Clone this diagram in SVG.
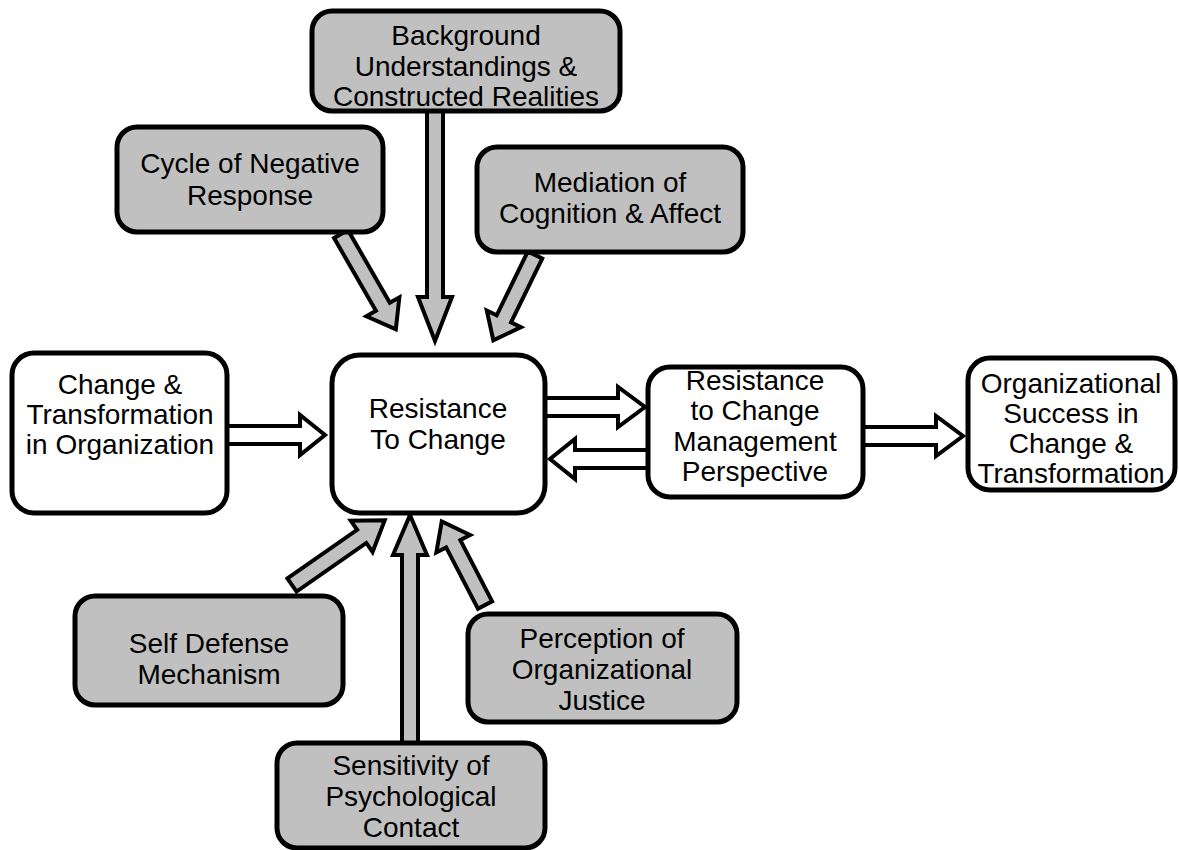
<svg xmlns="http://www.w3.org/2000/svg" width="1179" height="850" viewBox="0 0 1179 850">
<style>
.box{stroke:#000;stroke-width:5;}
.g{fill:#c0c0c0;}
.w{fill:#fff;}
.arr{stroke:#000;stroke-width:4;stroke-linejoin:miter;stroke-miterlimit:10;}
text{font-family:"Liberation Sans",Arial,sans-serif;font-size:28px;fill:#000;text-anchor:middle;}
</style>
<rect width="1179" height="850" fill="#fff"/>
<g id="connectors">
<path class="arr g" transform="translate(435,108) rotate(90)" d="M0,-8 H189 V-17 L233,0 L189,17 V8 H0 Z"/>
<path class="arr g" transform="translate(341,234) rotate(60.1)" d="M0,-8 H84 V-19 L110,0 L84,19 V8 H0 Z"/>
<path class="arr g" transform="translate(535,255) rotate(116)" d="M0,-8 H71 V-19 L95,0 L71,19 V8 H0 Z"/>
<path class="arr w" transform="translate(225,435)" d="M0,-9 H75 V-20 L100,0 L75,20 V9 H0 Z"/>
<path class="arr w" transform="translate(543,407)" d="M0,-9 H75 V-20 L102,0 L75,20 V9 H0 Z"/>
<path class="arr w" transform="translate(650,459) rotate(180)" d="M0,-9 H75 V-20 L100,0 L75,20 V9 H0 Z"/>
<path class="arr w" transform="translate(861,436)" d="M0,-9 H75 V-20 L102,0 L75,20 V9 H0 Z"/>
<path class="arr g" transform="translate(410,746) rotate(-90)" d="M0,-8 H191 V-17 L231,0 L191,17 V8 H0 Z"/>
<path class="arr g" transform="translate(292,585) rotate(-34.9)" d="M0,-8 H85 V-19 L113,0 L85,19 V8 H0 Z"/>
<path class="arr g" transform="translate(485,605) rotate(-117.4)" d="M0,-8 H69 V-19 L94,0 L69,19 V8 H0 Z"/>
</g>
<g id="background">
<rect class="box g" x="312" y="11" width="308" height="100" rx="20"/>
<text x="466" y="45">Background</text>
<text x="466" y="76">Understandings &amp;</text>
<text x="466" y="106">Constructed Realities</text>
</g>
<g id="cycle">
<rect class="box g" x="117" y="127" width="266" height="105" rx="20"/>
<text x="250" y="173">Cycle of Negative</text>
<text x="250" y="205">Response</text>
</g>
<g id="mediation">
<rect class="box g" x="477" y="147" width="266" height="105" rx="20"/>
<text x="610" y="192">Mediation of</text>
<text x="610" y="223">Cognition &amp; Affect</text>
</g>
<g id="change">
<rect class="box w" x="12" y="353" width="215" height="160" rx="22"/>
<text x="120" y="394">Change &amp;</text>
<text x="120" y="424">Transformation</text>
<text x="120" y="454">in Organization</text>
</g>
<g id="resistance">
<rect class="box w" x="332" y="355" width="213" height="158" rx="28"/>
<text x="438" y="418">Resistance</text>
<text x="438" y="449">To Change</text>
</g>
<g id="management">
<rect class="box w" x="648" y="367" width="215" height="130" rx="22"/>
<text x="755" y="390">Resistance</text>
<text x="755" y="420">to Change</text>
<text x="755" y="451">Management</text>
<text x="755" y="481">Perspective</text>
</g>
<g id="success">
<rect class="box w" x="968" y="358" width="207" height="132" rx="22"/>
<text x="1071" y="393">Organizational</text>
<text x="1071" y="423">Success in</text>
<text x="1071" y="453">Change &amp;</text>
<text x="1071" y="483">Transformation</text>
</g>
<g id="selfdefense">
<rect class="box g" x="75" y="596" width="268" height="109" rx="20"/>
<text x="209" y="653">Self Defense</text>
<text x="209" y="684">Mechanism</text>
</g>
<g id="perception">
<rect class="box g" x="468" y="614" width="269" height="108" rx="20"/>
<text x="602" y="648">Perception of</text>
<text x="602" y="679">Organizational</text>
<text x="602" y="710">Justice</text>
</g>
<g id="sensitivity">
<rect class="box g" x="277" y="743" width="268" height="105" rx="20"/>
<text x="411" y="775">Sensitivity of</text>
<text x="411" y="806">Psychological</text>
<text x="411" y="837">Contact</text>
</g>
</svg>
